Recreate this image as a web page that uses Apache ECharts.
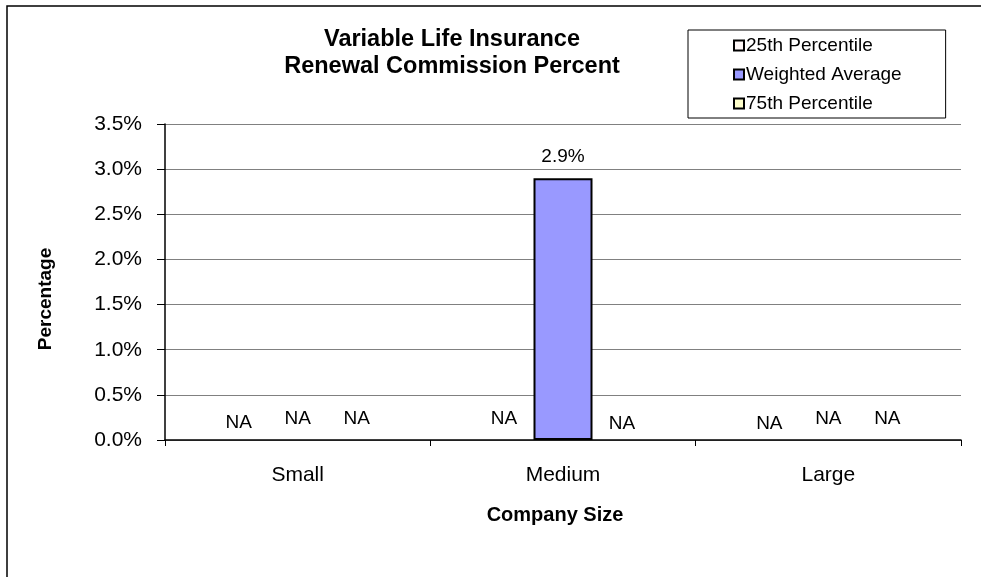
<!DOCTYPE html>
<html>
<head>
<meta charset="utf-8">
<script src="https://cdn.jsdelivr.net/npm/echarts@6/dist/echarts.min.js"></script>
<style>
html, body { margin: 0; padding: 0; background: #fff; }
#chart { width: 981px; height: 577px; }
</style>
</head>
<body>
<div id="chart"></div>
<script>
var categories = ['Small', 'Medium', 'Large'];
var seriesNames = ['25th Percentile', 'Weighted Average', '75th Percentile'];
// null = NA in the source table
var p25Values = [null, null, null];
var avgValues = [null, 2.9, null];
var p75Values = [null, null, null];
var yTicks = [0, 0.5, 1, 1.5, 2, 2.5, 3, 3.5];

var fillColors = ['#FFF8F8', '#9999FF', '#FFFFCC'];
var fontName = 'Liberation Sans, Arial, sans-serif';

// small vertical nudges of the NA texts, [series][category]
var naOffsets = [
	[4, 0, 5],
	[0, 0, 0],
	[0, 5, 0]
];

var buildData = function(values, sIdx) {
	var out = [];
	for (var i = 0; i < values.length; i++) {
		if (values[i] == null) {
			out.push({
				value: 0,
				itemStyle: { borderWidth: 0, color: 'rgba(0,0,0,0)' },
				label: { formatter: 'NA', offset: [0, naOffsets[sIdx][i]] }
			});
		} else {
			out.push({ value: values[i] });
		}
	}
	return out;
};

var allValues = [p25Values, avgValues, p75Values];
var series = [];
for (var s = 0; s < allValues.length; s++) {
	series.push({
		name: seriesNames[s],
		type: 'bar',
		barWidth: 59,
		barGap: '0%',
		itemStyle: { color: fillColors[s], borderColor: '#000', borderWidth: 2 },
		label: {
			show: true,
			position: 'top',
			distance: 12,
			color: '#000',
			fontSize: 19,
			fontFamily: fontName,
			formatter: function(p) { return p.value.toFixed(1) + '%'; }
		},
		data: buildData(allValues[s], s)
	});
}

var chart = echarts.init(document.getElementById('chart'), null, { renderer: 'canvas' });
var option = {
	backgroundColor: '#fff',
	animation: false,
	textStyle: { fontFamily: fontName },
	graphic: [{
		type: 'rect',
		shape: { x: 7, y: 6, width: 1000, height: 600 },
		style: { fill: 'none', stroke: '#000', lineWidth: 1.5 },
		silent: true
	}],
	title: {
		text: 'Variable Life Insurance\nRenewal Commission Percent',
		left: 447,
		textAlign: 'center',
		top: 21,
		textStyle: { fontSize: 23.5, fontWeight: 'bold', color: '#000', lineHeight: 27, fontFamily: fontName }
	},
	legend: {
		orient: 'vertical',
		left: 688,
		top: 30,
		padding: [6, 44, 5, 45],
		itemGap: 10,
		itemWidth: 10,
		itemHeight: 10,
		itemStyle: { borderColor: '#000', borderWidth: 2 },
		icon: 'rect',
		borderColor: '#000',
		borderWidth: 1,
		textStyle: { fontSize: 19, lineHeight: 19, color: '#000', padding: [0, 0, 0, -3], fontFamily: fontName },
		data: seriesNames
	},
	grid: { left: 165, right: 20, top: 124, bottom: 137, containLabel: false },
	xAxis: {
		type: 'category',
		data: categories,
		name: 'Company Size',
		nameLocation: 'middle',
		nameGap: 65,
		nameTextStyle: { fontSize: 20, fontWeight: 'bold', color: '#000', fontFamily: fontName, padding: [0, 16, 0, 0] },
		axisLine: { lineStyle: { color: '#000', width: 1.5 } },
		axisTick: { show: true, length: 6, lineStyle: { color: '#000' } },
		axisLabel: { fontSize: 21, color: '#000', margin: 25, fontFamily: fontName }
	},
	yAxis: {
		type: 'value',
		min: yTicks[0],
		max: yTicks[yTicks.length - 1],
		interval: 0.5,
		name: 'Percentage',
		nameLocation: 'middle',
		nameGap: 110,
		nameRotate: 90,
		nameTextStyle: { fontSize: 19, fontWeight: 'bold', color: '#000', fontFamily: fontName, padding: [0, 34, 0, 0] },
		axisLine: { show: true, lineStyle: { color: '#000', width: 1.5 } },
		axisTick: { show: true, inside: false, length: 8, lineStyle: { color: '#000' } },
		splitLine: { lineStyle: { color: '#808080', width: 1 } },
		axisLabel: {
			fontSize: 21, color: '#000', margin: 23, fontFamily: fontName,
			formatter: function(v) { return v.toFixed(1) + '%'; }
		}
	},
	series: series
};
chart.setOption(option);
</script>
</body>
</html>
